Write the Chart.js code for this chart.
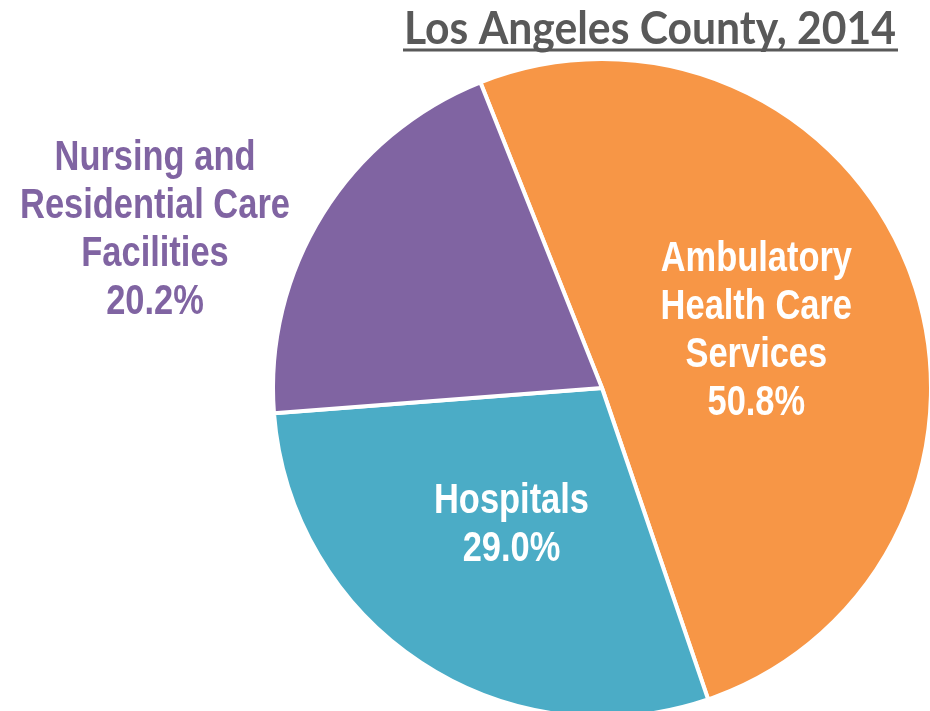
<!DOCTYPE html>
<html>
<head>
<meta charset="utf-8">
<script src="https://cdn.jsdelivr.net/npm/chart.js@4.4.1/dist/chart.umd.min.js"></script>
<style>
  html, body { margin: 0; padding: 0; background: #fff; overflow: hidden; }
  #wrap { position: relative; width: 930px; height: 711px; }
</style>
</head>
<body>
<div id="wrap"><canvas id="myChart"></canvas></div>
<script>
/* globals Chart:false */

// Data
const categories = [
  ['Ambulatory', 'Health Care', 'Services'],
  ['Hospitals'],
  ['Nursing and', 'Residential Care', 'Facilities']
]
const shares = [50.8, 29.0, 20.2]
const sliceColors = ['#F79646', '#4BACC6', '#8064A2']
const labelColors = ['#FFFFFF', '#FFFFFF', '#8064A2']
const titleText = 'Los Angeles County, 2014'

// no Arial Narrow here, so squeeze Liberation Sans a bit
const labelFont = 'bold 42px "Liberation Sans", Arial, sans-serif'
const narrow = 0.82
const lineHeight = 48

// underlined title, drawn on the canvas
const underlinedTitle = {
  id: 'underlinedTitle',
  afterDraw (chart) {
    const { ctx } = chart
    const left = 404
    const right = 896
    ctx.save()
    ctx.font = 'bold 45px Lato, "Open Sans", sans-serif'
    ctx.fillStyle = '#595959'
    ctx.textBaseline = 'alphabetic'
    ctx.textAlign = 'left'
    const w = ctx.measureText(titleText).width
    ctx.translate(left, 43.5)
    ctx.scale((right - left) / w, 1)
    ctx.fillText(titleText, 0, 0)
    ctx.restore()
    ctx.fillStyle = '#595959'
    ctx.fillRect(left - 1, 48.5, right - left + 3, 3)
  }
}

// category + percent labels
const sliceLabels = {
  id: 'sliceLabels',
  afterDatasetsDraw (chart) {
    const { ctx } = chart
    const meta = chart.getDatasetMeta(0)
    meta.data.forEach((arc, i) => {
      const lines = categories[i].concat(shares[i].toFixed(1) + '%')
      let x, y
      if (i === 2) {
        // outside, to the left of the pie
        x = arc.x - arc.outerRadius - 118
        y = arc.y - 158
      } else {
        const p = arc.tooltipPosition()
        x = p.x
        y = p.y
      }
      const top = y - (lines.length - 1) * lineHeight / 2
      lines.forEach((t, k) => {
        ctx.save()
        ctx.font = labelFont
        ctx.textAlign = 'center'
        ctx.textBaseline = 'middle'
        ctx.fillStyle = labelColors[i]
        ctx.translate(x, top + k * lineHeight)
        ctx.scale(narrow, 1)
        ctx.fillText(t, 0, 0)
        ctx.restore()
      })
    })
  }
}

const ctx = document.getElementById('myChart')
// eslint-disable-next-line no-unused-vars
const myChart = new Chart(ctx, {
  type: 'pie',
  data: {
    labels: categories.map(c => c.join(' ')),
    datasets: [{
      data: shares,
      backgroundColor: sliceColors,
      borderColor: '#FFFFFF',
      borderWidth: 4,
      hoverOffset: 0
    }]
  },
  options: {
    responsive: true,
    maintainAspectRatio: false,
    animation: false,
    rotation: -21.7,
    radius: 329,
    layout: {
      padding: { left: 275, right: 1, top: 65, bottom: 0 }
    },
    plugins: {
      legend: { display: false },
      tooltip: { enabled: false },
      title: { display: false }
    }
  },
  plugins: [sliceLabels, underlinedTitle]
})
</script>
</body>
</html>
